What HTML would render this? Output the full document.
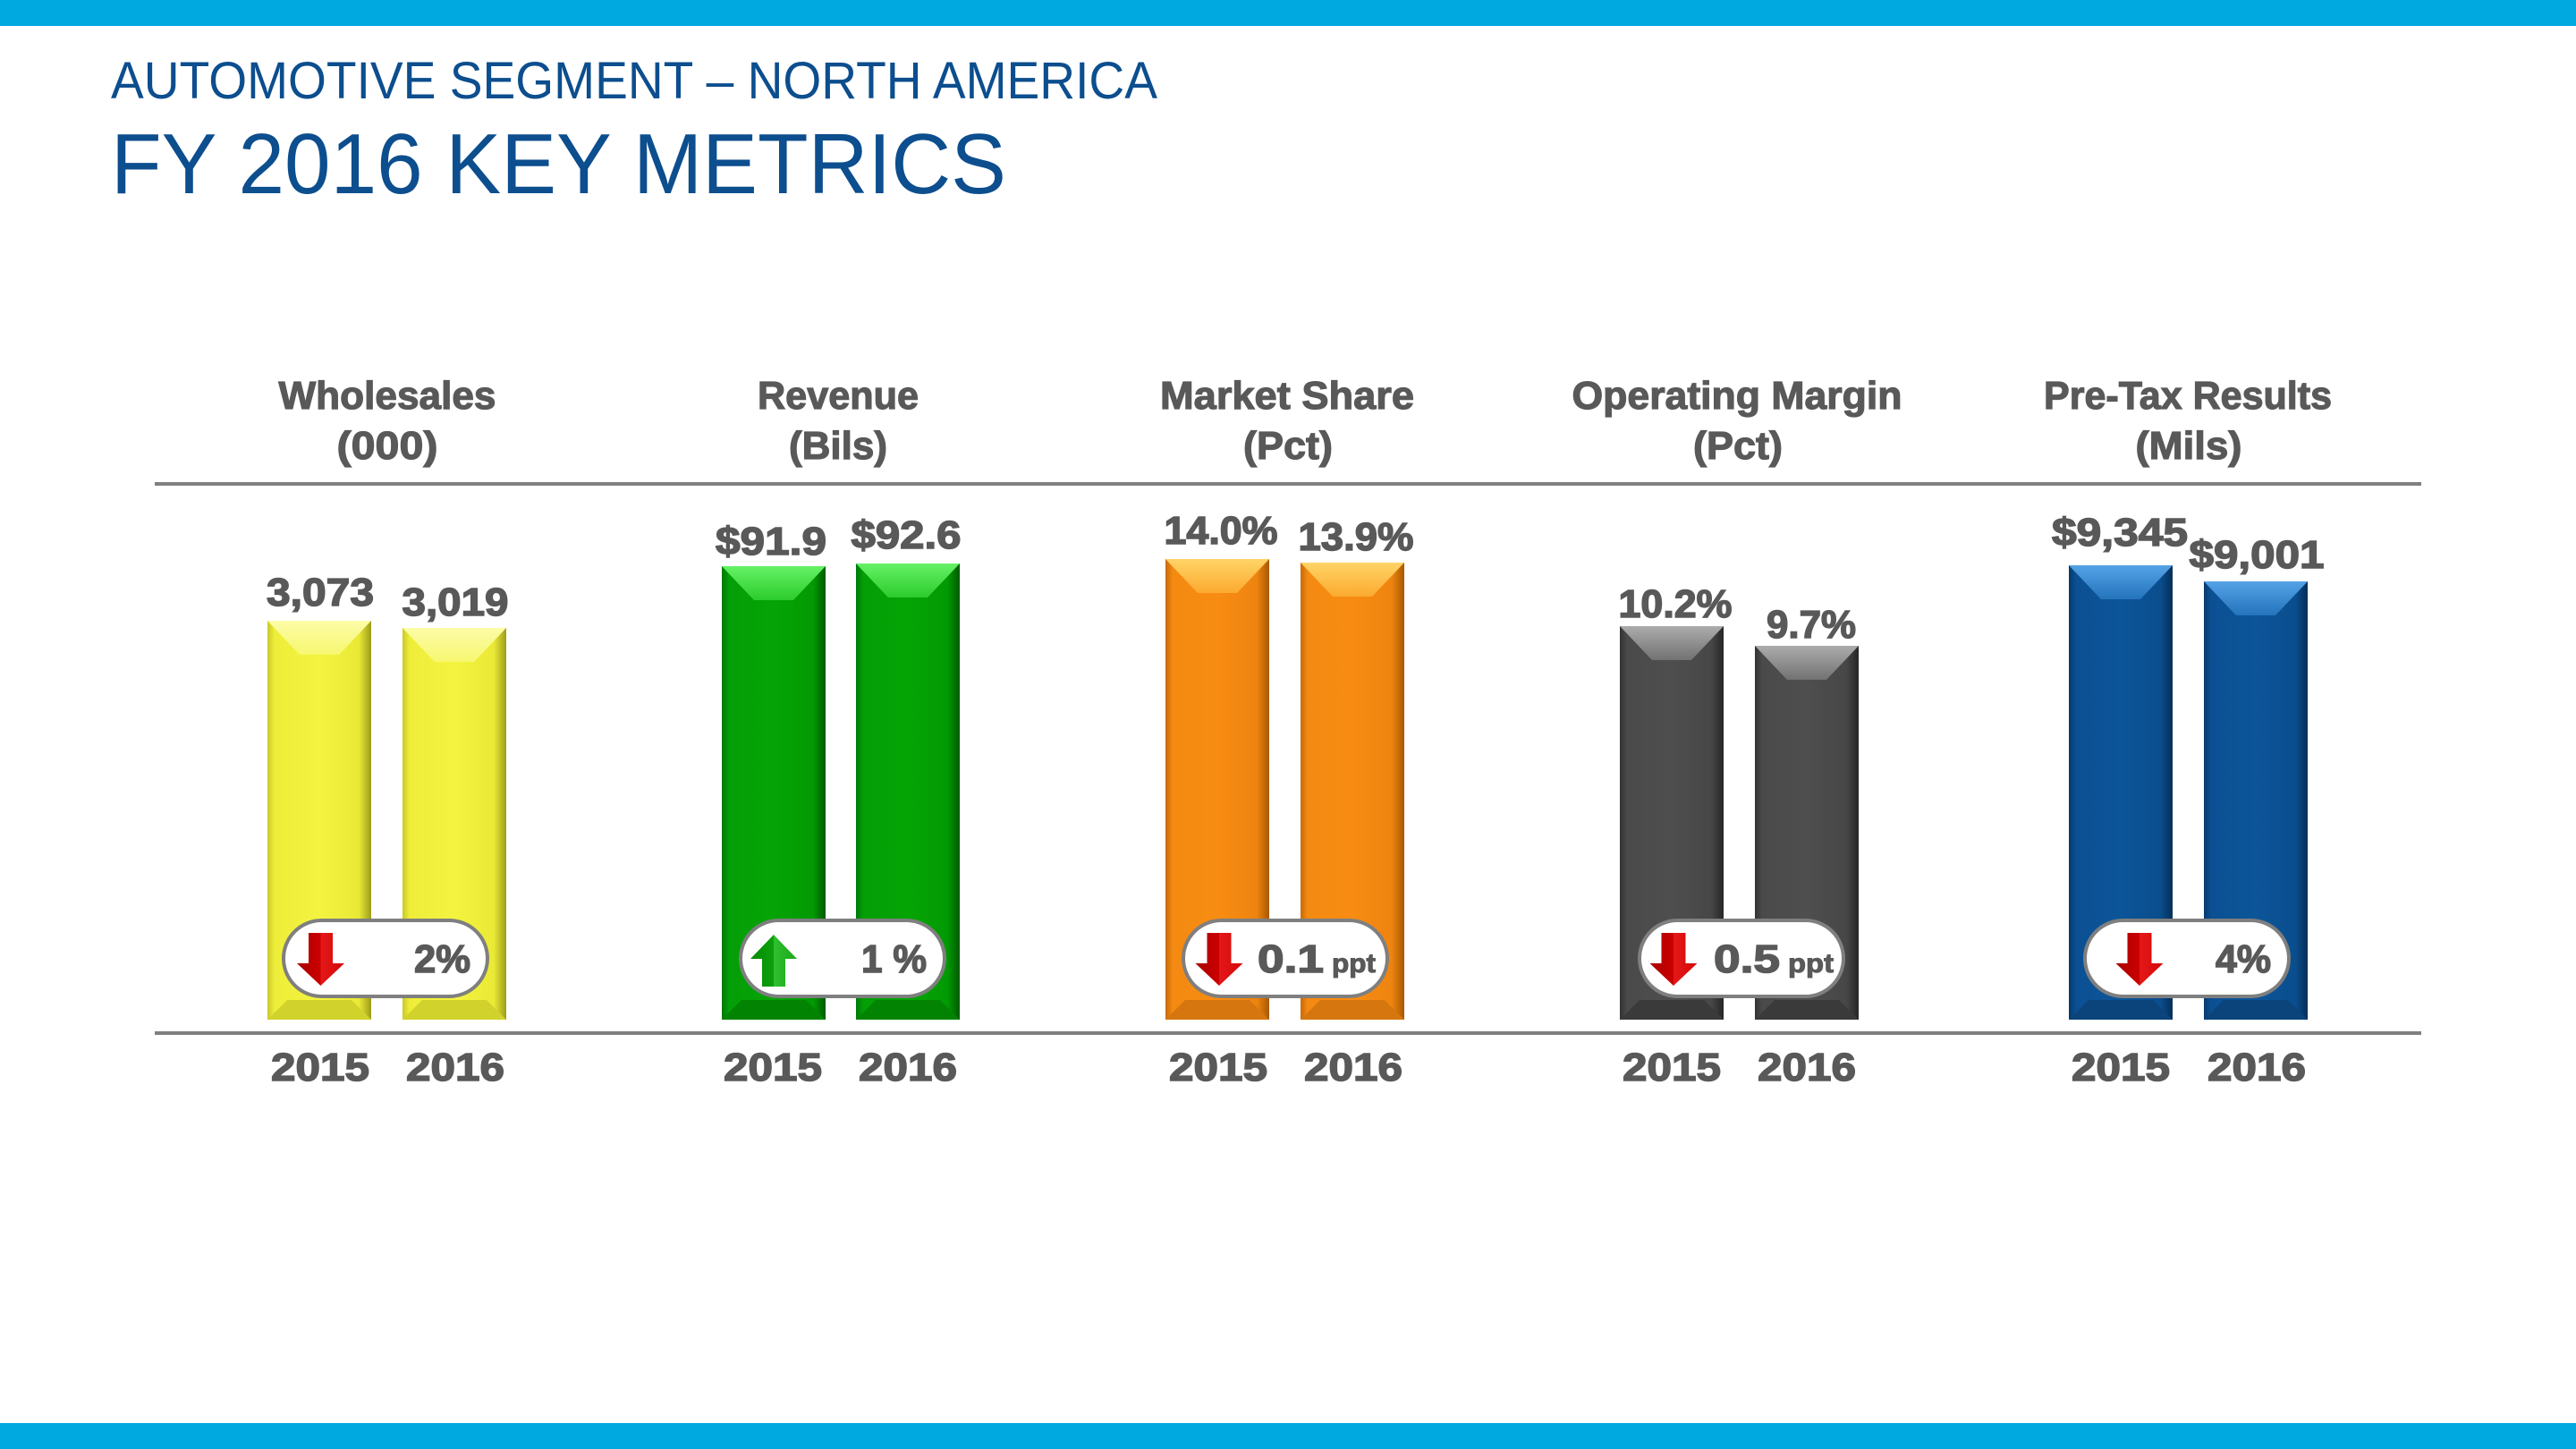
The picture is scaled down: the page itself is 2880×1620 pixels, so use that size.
<!DOCTYPE html>
<html>
<head>
<meta charset="utf-8">
<style>
  html,body{margin:0;padding:0;background:#fff;}
  body{width:2880px;height:1620px;overflow:hidden;}
  svg{display:block;}
  text{font-family:"Liberation Sans", Arial, sans-serif;}
</style>
</head>
<body>
<svg width="2880" height="1620" viewBox="0 0 2880 1620" xmlns="http://www.w3.org/2000/svg">
  <defs>
    <!-- Yellow -->
    <linearGradient id="yb" x1="0" y1="0" x2="1" y2="0">
      <stop offset="0" stop-color="#c9c92a"/>
      <stop offset="0.07" stop-color="#eeee3a"/>
      <stop offset="0.5" stop-color="#f4f440"/>
      <stop offset="0.88" stop-color="#eaea36"/>
      <stop offset="1" stop-color="#9c9c1c"/>
    </linearGradient>
    <linearGradient id="yt" x1="0" y1="0" x2="0" y2="1">
      <stop offset="0" stop-color="#fcfca8"/>
      <stop offset="1" stop-color="#f7f770"/>
    </linearGradient>
    <!-- Green -->
    <linearGradient id="gb" x1="0" y1="0" x2="1" y2="0">
      <stop offset="0" stop-color="#00780a"/>
      <stop offset="0.07" stop-color="#049e06"/>
      <stop offset="0.5" stop-color="#05a405"/>
      <stop offset="0.88" stop-color="#039a03"/>
      <stop offset="1" stop-color="#005a00"/>
    </linearGradient>
    <linearGradient id="gt" x1="0" y1="0" x2="0" y2="1">
      <stop offset="0" stop-color="#66f266"/>
      <stop offset="1" stop-color="#2ccc2c"/>
    </linearGradient>
    <!-- Orange -->
    <linearGradient id="ob" x1="0" y1="0" x2="1" y2="0">
      <stop offset="0" stop-color="#c86a08"/>
      <stop offset="0.07" stop-color="#f48a12"/>
      <stop offset="0.5" stop-color="#f88c12"/>
      <stop offset="0.88" stop-color="#ee8410"/>
      <stop offset="1" stop-color="#a85800"/>
    </linearGradient>
    <linearGradient id="ot" x1="0" y1="0" x2="0" y2="1">
      <stop offset="0" stop-color="#ffd466"/>
      <stop offset="1" stop-color="#fcaa30"/>
    </linearGradient>
    <!-- Gray -->
    <linearGradient id="kb" x1="0" y1="0" x2="1" y2="0">
      <stop offset="0" stop-color="#333333"/>
      <stop offset="0.07" stop-color="#4a4a4a"/>
      <stop offset="0.5" stop-color="#4e4e4e"/>
      <stop offset="0.88" stop-color="#474747"/>
      <stop offset="1" stop-color="#262626"/>
    </linearGradient>
    <linearGradient id="kt" x1="0" y1="0" x2="0" y2="1">
      <stop offset="0" stop-color="#acacac"/>
      <stop offset="1" stop-color="#727272"/>
    </linearGradient>
    <!-- Blue -->
    <linearGradient id="bb" x1="0" y1="0" x2="1" y2="0">
      <stop offset="0" stop-color="#073a6c"/>
      <stop offset="0.07" stop-color="#0b5093"/>
      <stop offset="0.5" stop-color="#0c5599"/>
      <stop offset="0.88" stop-color="#0a4e8e"/>
      <stop offset="1" stop-color="#052e58"/>
    </linearGradient>
    <linearGradient id="bt" x1="0" y1="0" x2="0" y2="1">
      <stop offset="0" stop-color="#55a2e6"/>
      <stop offset="1" stop-color="#2474bc"/>
    </linearGradient>
    <!-- Arrows -->
    <linearGradient id="ra" x1="0" y1="0" x2="1" y2="0">
      <stop offset="0" stop-color="#a80000"/>
      <stop offset="0.5" stop-color="#cc0000"/>
      <stop offset="0.5" stop-color="#e41818"/>
      <stop offset="1" stop-color="#d40808"/>
    </linearGradient>
    <linearGradient id="ga" x1="0" y1="0" x2="1" y2="0">
      <stop offset="0" stop-color="#068a06"/>
      <stop offset="0.5" stop-color="#0ca00c"/>
      <stop offset="0.5" stop-color="#30c030"/>
      <stop offset="1" stop-color="#18a818"/>
    </linearGradient>
  </defs>

  <!-- top and bottom bars -->
  <rect x="0" y="0" width="2880" height="29" fill="#00a9e0"/>
  <rect x="0" y="1591" width="2880" height="29" fill="#00a9e0"/>

  <!-- titles -->
  <text x="124" y="110" font-size="58" fill="#0c4e8e" textLength="1170" lengthAdjust="spacingAndGlyphs">AUTOMOTIVE SEGMENT – NORTH AMERICA</text>
  <text x="124" y="216" font-size="96" fill="#0c4e8e" textLength="1001" lengthAdjust="spacingAndGlyphs">FY 2016 KEY METRICS</text>

  <!-- headers -->
  <g font-size="44" font-weight="bold" fill="#595959" stroke="#595959" stroke-width="1.2" text-anchor="middle">
    <text x="433" y="457" textLength="243" lengthAdjust="spacingAndGlyphs">Wholesales</text>
    <text x="433" y="513" textLength="113" lengthAdjust="spacingAndGlyphs">(000)</text>
    <text x="937" y="457" textLength="180" lengthAdjust="spacingAndGlyphs">Revenue</text>
    <text x="937" y="513" textLength="110" lengthAdjust="spacingAndGlyphs">(Bils)</text>
    <text x="1439" y="457" textLength="284" lengthAdjust="spacingAndGlyphs">Market Share</text>
    <text x="1440" y="513" textLength="100" lengthAdjust="spacingAndGlyphs">(Pct)</text>
    <text x="1942" y="457" textLength="369" lengthAdjust="spacingAndGlyphs">Operating Margin</text>
    <text x="1943" y="513" textLength="100" lengthAdjust="spacingAndGlyphs">(Pct)</text>
    <text x="2446" y="457" textLength="322" lengthAdjust="spacingAndGlyphs">Pre-Tax Results</text>
    <text x="2447" y="513" textLength="119" lengthAdjust="spacingAndGlyphs">(Mils)</text>
  </g>

  <!-- rules -->
  <rect x="173" y="539" width="2534" height="4" fill="#808080"/>
  <rect x="173" y="1153" width="2534" height="4" fill="#808080"/>

  <!-- Group 1 yellow -->
  <rect x="299" y="694" width="116" height="446" fill="url(#yb)"/>
  <polygon points="299,694 415,694 379,732 335,732" fill="url(#yt)"/>
  <polygon points="299,1140 415,1140 393,1118 321,1118" fill="#d2d22c"/>
  <rect x="450" y="702" width="116" height="438" fill="url(#yb)"/>
  <polygon points="450,702 566,702 530,740 486,740" fill="url(#yt)"/>
  <polygon points="450,1140 566,1140 544,1118 472,1118" fill="#d2d22c"/>

  <!-- Group 2 green -->
  <rect x="807" y="633" width="116" height="507" fill="url(#gb)"/>
  <polygon points="807,633 923,633 887,671 843,671" fill="url(#gt)"/>
  <polygon points="807,1140 923,1140 901,1118 829,1118" fill="#028402"/>
  <rect x="957" y="630" width="116" height="510" fill="url(#gb)"/>
  <polygon points="957,630 1073,630 1037,668 993,668" fill="url(#gt)"/>
  <polygon points="957,1140 1073,1140 1051,1118 979,1118" fill="#028402"/>

  <!-- Group 3 orange -->
  <rect x="1303" y="625" width="116" height="515" fill="url(#ob)"/>
  <polygon points="1303,625 1419,625 1383,663 1339,663" fill="url(#ot)"/>
  <polygon points="1303,1140 1419,1140 1397,1118 1325,1118" fill="#d6760e"/>
  <rect x="1454" y="629" width="116" height="511" fill="url(#ob)"/>
  <polygon points="1454,629 1570,629 1534,667 1490,667" fill="url(#ot)"/>
  <polygon points="1454,1140 1570,1140 1548,1118 1476,1118" fill="#d6760e"/>

  <!-- Group 4 gray -->
  <rect x="1811" y="700" width="116" height="440" fill="url(#kb)"/>
  <polygon points="1811,700 1927,700 1891,738 1847,738" fill="url(#kt)"/>
  <polygon points="1811,1140 1927,1140 1905,1118 1833,1118" fill="#3a3a3a"/>
  <rect x="1962" y="722" width="116" height="418" fill="url(#kb)"/>
  <polygon points="1962,722 2078,722 2042,760 1998,760" fill="url(#kt)"/>
  <polygon points="1962,1140 2078,1140 2056,1118 1984,1118" fill="#3a3a3a"/>

  <!-- Group 5 blue -->
  <rect x="2313" y="632" width="116" height="508" fill="url(#bb)"/>
  <polygon points="2313,632 2429,632 2393,670 2349,670" fill="url(#bt)"/>
  <polygon points="2313,1140 2429,1140 2407,1118 2335,1118" fill="#0a447a"/>
  <rect x="2464" y="650" width="116" height="490" fill="url(#bb)"/>
  <polygon points="2464,650 2580,650 2544,688 2500,688" fill="url(#bt)"/>
  <polygon points="2464,1140 2580,1140 2558,1118 2486,1118" fill="#0a447a"/>

  <!-- value labels -->
  <g font-size="44" font-weight="bold" fill="#595959" stroke="#595959" stroke-width="1.5" text-anchor="middle">
    <text x="358" y="677" textLength="120" lengthAdjust="spacingAndGlyphs">3,073</text>
    <text x="509" y="688" textLength="119" lengthAdjust="spacingAndGlyphs">3,019</text>
    <text x="862" y="620" textLength="124" lengthAdjust="spacingAndGlyphs">$91.9</text>
    <text x="1013" y="613" textLength="123" lengthAdjust="spacingAndGlyphs">$92.6</text>
    <text x="1365" y="608" textLength="127" lengthAdjust="spacingAndGlyphs">14.0%</text>
    <text x="1516" y="615" textLength="129" lengthAdjust="spacingAndGlyphs">13.9%</text>
    <text x="1873" y="690" textLength="127" lengthAdjust="spacingAndGlyphs">10.2%</text>
    <text x="2025" y="713" textLength="100" lengthAdjust="spacingAndGlyphs">9.7%</text>
    <text x="2370" y="610" textLength="152" lengthAdjust="spacingAndGlyphs">$9,345</text>
    <text x="2523" y="635" textLength="151" lengthAdjust="spacingAndGlyphs">$9,001</text>
  </g>

  <!-- pills -->
  <g fill="#ffffff" stroke="#7f7f7f" stroke-width="4">
    <rect x="317" y="1029" width="228" height="85" rx="42.5" ry="42.5"/>
    <rect x="828" y="1029" width="228" height="85" rx="42.5" ry="42.5"/>
    <rect x="1323" y="1029" width="228" height="85" rx="42.5" ry="42.5"/>
    <rect x="1833" y="1029" width="228" height="85" rx="42.5" ry="42.5"/>
    <rect x="2331" y="1029" width="228" height="85" rx="42.5" ry="42.5"/>
  </g>

  <!-- arrows -->
  <polygon points="345,1043 372,1043 372,1077 385,1077 358.5,1102 332,1077 345,1077" fill="url(#ra)"/>
  <polygon points="865,1045 891,1072 878,1072 878,1103 852,1103 852,1072 839,1072" fill="url(#ga)"/>
  <polygon points="1349.5,1043 1376.5,1043 1376.5,1077 1389.5,1077 1363,1102 1336.5,1077 1349.5,1077" fill="url(#ra)"/>
  <polygon points="1857.5,1043 1884.5,1043 1884.5,1077 1897.5,1077 1871,1102 1844.5,1077 1857.5,1077" fill="url(#ra)"/>
  <polygon points="2378.5,1043 2405.5,1043 2405.5,1077 2418.5,1077 2392,1102 2365.5,1077 2378.5,1077" fill="url(#ra)"/>

  <!-- pill texts -->
  <g font-size="44" font-weight="bold" fill="#595959" stroke="#595959" stroke-width="1.5">
    <text x="463" y="1087" textLength="63" lengthAdjust="spacingAndGlyphs">2%</text>
    <text x="963" y="1087" textLength="73" lengthAdjust="spacingAndGlyphs">1 %</text>
    <text x="1406" y="1087" textLength="74" lengthAdjust="spacingAndGlyphs">0.1</text>
    <text x="1916" y="1087" textLength="74" lengthAdjust="spacingAndGlyphs">0.5</text>
    <text x="2477" y="1087" textLength="62" lengthAdjust="spacingAndGlyphs">4%</text>
  </g>
  <g font-size="30" font-weight="bold" fill="#595959" stroke="#595959" stroke-width="1">
    <text x="1489" y="1087" textLength="49" lengthAdjust="spacingAndGlyphs">ppt</text>
    <text x="1999" y="1087" textLength="51" lengthAdjust="spacingAndGlyphs">ppt</text>
  </g>

  <!-- year labels -->
  <g font-size="44" font-weight="bold" fill="#595959" stroke="#595959" stroke-width="1.5" text-anchor="middle">
    <text x="358" y="1208" textLength="110" lengthAdjust="spacingAndGlyphs">2015</text>
    <text x="509" y="1208" textLength="110" lengthAdjust="spacingAndGlyphs">2016</text>
    <text x="864" y="1208" textLength="110" lengthAdjust="spacingAndGlyphs">2015</text>
    <text x="1015" y="1208" textLength="110" lengthAdjust="spacingAndGlyphs">2016</text>
    <text x="1362" y="1208" textLength="110" lengthAdjust="spacingAndGlyphs">2015</text>
    <text x="1513" y="1208" textLength="110" lengthAdjust="spacingAndGlyphs">2016</text>
    <text x="1869" y="1208" textLength="110" lengthAdjust="spacingAndGlyphs">2015</text>
    <text x="2020" y="1208" textLength="110" lengthAdjust="spacingAndGlyphs">2016</text>
    <text x="2371" y="1208" textLength="110" lengthAdjust="spacingAndGlyphs">2015</text>
    <text x="2523" y="1208" textLength="110" lengthAdjust="spacingAndGlyphs">2016</text>
  </g>
</svg>
</body>
</html>
